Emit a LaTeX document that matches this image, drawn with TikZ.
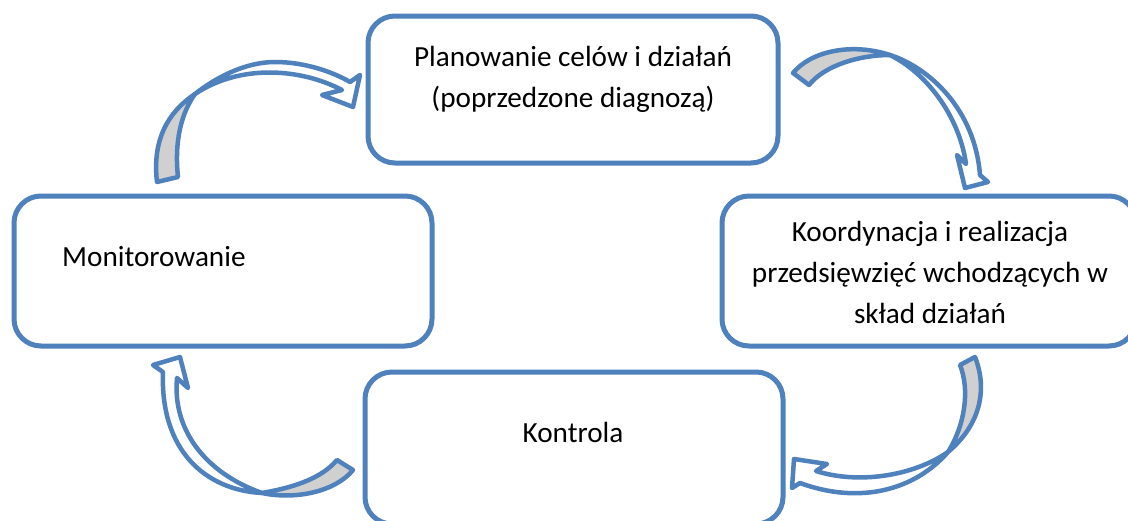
\documentclass[tikz,border=0pt]{standalone}
\usepackage{fontspec}
\setmainfont{Carlito}
\usetikzlibrary{positioning}
\definecolor{boxblue}{RGB}{79,129,189}
\definecolor{backgray}{RGB}{208,208,208}

\begin{document}
\begin{tikzpicture}
	[x=1pt,y=-1pt,
	stage/.style={shape=rectangle,draw=boxblue,line width=5pt,rounded corners=27pt,fill=white},
	label text/.style={inner sep=0pt,font=\fontsize{29.2}{41}\selectfont,align=center},
	loop back/.style={draw=boxblue,line width=4.5pt,line join=round,fill=backgray},
	loop front/.style={draw=boxblue,line width=4.5pt,line join=round,fill=white}]
	\clip (0,0) rectangle (1128,520);
	\fill[white] (0,0) rectangle (1128,520);
	
	\node [stage,minimum width=410pt,minimum height=147pt] (plan) at (573,89.5) {};
	\node [stage,minimum width=418pt,minimum height=150pt] (monit) at (223,271) {};
	\node [stage,minimum width=414pt,minimum height=150pt] (koord) at (929,271) {};
	\node [stage,minimum width=418pt,minimum height=152pt] (kontr) at (574,448) {};
	
	\node [label text,anchor=base] (plan text) at (573,107) {Planowanie celów i działań\\(poprzedzone diagnozą)};
	\node [label text,anchor=base west] (monit text) at (62,266) {Monitorowanie};
	\node [label text,anchor=base] (koord text) at (930,323) {Koordynacja i realizacja\\przedsięwzięć wchodzących w\\skład działań};
	\node [label text,anchor=base] (kontr text) at (573,442) {Kontrola};
	
	% monitorowanie -> planowanie
	\draw[loop back] (157,182) .. controls (152,140) and (168,112) .. (195,94)
		.. controls (182,112) and (174,140) .. (178,177) -- cycle;
	\draw[loop front] (195,94) .. controls (215,78) and (245,62) .. (275,62)
		.. controls (305,62) and (333,72) .. (350,82) -- (360,75) -- (353,107) -- (322,95) -- (342,90)
		.. controls (300,68) and (240,64) .. (195,94) -- cycle;
	
	% planowanie -> koordynacja
	\draw[loop back] (793,73) .. controls (810,52) and (850,42) .. (890,55)
		.. controls (860,55) and (825,65) .. (809,85) -- cycle;
	\draw[loop front] (890,55) .. controls (930,68) and (975,110) .. (980,175)
		-- (988,182) -- (965,188) -- (957,155) -- (966,164)
		.. controls (960,120) and (930,75) .. (890,55) -- cycle;
	
	% koordynacja -> kontrola
	\draw[loop back] (975,357) .. controls (988,390) and (980,425) .. (948,452)
		.. controls (965,425) and (970,390) .. (960,365) -- cycle;
	\draw[loop front] (948,452) .. controls (915,490) and (860,505) .. (800,483)
		-- (792,488) -- (794,459) -- (827,464) -- (816,471)
		.. controls (860,485) and (915,475) .. (948,452) -- cycle;
	
	% kontrola -> monitorowanie
	\draw[loop back] (353,470) .. controls (335,492) and (295,500) .. (262,493)
		.. controls (290,488) and (320,480) .. (337,460) -- cycle;
	\draw[loop front] (262,493) .. controls (205,490) and (160,450) .. (163,372)
		-- (153,365) -- (180,357) -- (188,388) -- (177,378)
		.. controls (172,432) and (208,474) .. (262,493) -- cycle;
\end{tikzpicture}
\end{document}
